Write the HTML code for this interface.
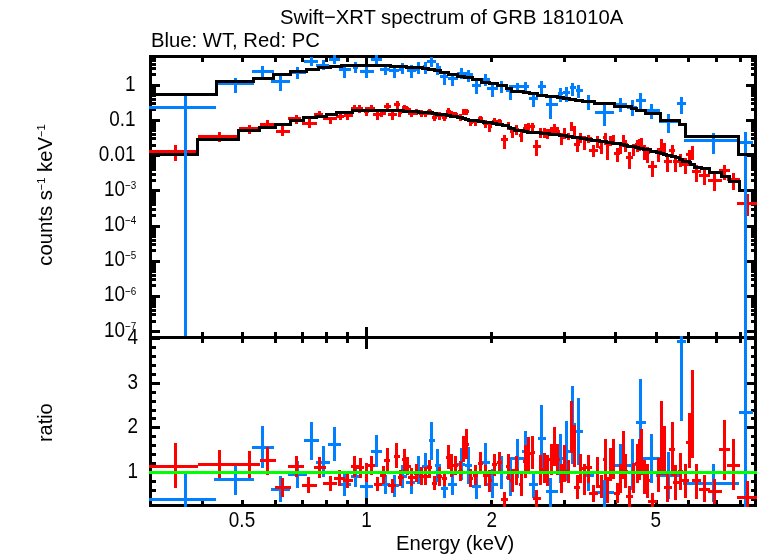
<!DOCTYPE html>
<html lang="en"><head><meta charset="utf-8"><title>Swift-XRT spectrum of GRB 181010A</title>
<style>html,body{margin:0;padding:0;background:#fff}svg{display:block}</style></head>
<body>
<svg width="758" height="556" viewBox="0 0 758 556" style="display:block">
<rect width="758" height="556" fill="#fff"/>
<g shape-rendering="crispEdges" fill="none" stroke-linecap="butt">
<path d="M150.5 55.0V507.0M755.5 55.0V507.0M149.0 56.5H757.0M150.5 337.5H755.5M149.0 505.5H757.0M202.5 56.5v5.5M202.5 332.0v11.0M202.5 505.5v-5.5M242.5 56.5v5.5M242.5 332.0v11.0M242.5 505.5v-5.5M275.5 56.5v5.5M275.5 332.0v11.0M275.5 505.5v-5.5M302.5 56.5v5.5M302.5 332.0v11.0M302.5 505.5v-5.5M326.5 56.5v5.5M326.5 332.0v11.0M326.5 505.5v-5.5M347.5 56.5v5.5M347.5 332.0v11.0M347.5 505.5v-5.5M491.5 56.5v5.5M491.5 332.0v11.0M491.5 505.5v-5.5M564.5 56.5v5.5M564.5 332.0v11.0M564.5 505.5v-5.5M615.5 56.5v5.5M615.5 332.0v11.0M615.5 505.5v-5.5M656.5 56.5v5.5M656.5 332.0v11.0M656.5 505.5v-5.5M688.5 56.5v5.5M688.5 332.0v11.0M688.5 505.5v-5.5M716.5 56.5v5.5M716.5 332.0v11.0M716.5 505.5v-5.5M740.5 56.5v5.5M740.5 332.0v11.0M740.5 505.5v-5.5M366.5 56.5v11M366.5 326.5v22M366.5 505.5v-11M150.5 85.5h9.5M755.5 85.5h-9.5M150.5 74.5h5.0M755.5 74.5h-5.0M150.5 68.5h5.0M755.5 68.5h-5.0M150.5 64.5h5.0M755.5 64.5h-5.0M150.5 60.5h5.0M755.5 60.5h-5.0M150.5 57.5h5.0M755.5 57.5h-5.0M150.5 120.5h9.5M755.5 120.5h-9.5M150.5 109.5h5.0M755.5 109.5h-5.0M150.5 103.5h5.0M755.5 103.5h-5.0M150.5 99.5h5.0M755.5 99.5h-5.0M150.5 95.5h5.0M755.5 95.5h-5.0M150.5 93.5h5.0M755.5 93.5h-5.0M150.5 90.5h5.0M755.5 90.5h-5.0M150.5 88.5h5.0M755.5 88.5h-5.0M150.5 86.5h5.0M755.5 86.5h-5.0M150.5 155.5h9.5M755.5 155.5h-9.5M150.5 145.5h5.0M755.5 145.5h-5.0M150.5 138.5h5.0M755.5 138.5h-5.0M150.5 134.5h5.0M755.5 134.5h-5.0M150.5 130.5h5.0M755.5 130.5h-5.0M150.5 128.5h5.0M755.5 128.5h-5.0M150.5 125.5h5.0M755.5 125.5h-5.0M150.5 123.5h5.0M755.5 123.5h-5.0M150.5 122.5h5.0M755.5 122.5h-5.0M150.5 190.5h9.5M755.5 190.5h-9.5M150.5 180.5h5.0M755.5 180.5h-5.0M150.5 174.5h5.0M755.5 174.5h-5.0M150.5 169.5h5.0M755.5 169.5h-5.0M150.5 166.5h5.0M755.5 166.5h-5.0M150.5 163.5h5.0M755.5 163.5h-5.0M150.5 161.5h5.0M755.5 161.5h-5.0M150.5 159.5h5.0M755.5 159.5h-5.0M150.5 157.5h5.0M755.5 157.5h-5.0M150.5 226.5h9.5M755.5 226.5h-9.5M150.5 215.5h5.0M755.5 215.5h-5.0M150.5 209.5h5.0M755.5 209.5h-5.0M150.5 204.5h5.0M755.5 204.5h-5.0M150.5 201.5h5.0M755.5 201.5h-5.0M150.5 198.5h5.0M755.5 198.5h-5.0M150.5 196.5h5.0M755.5 196.5h-5.0M150.5 194.5h5.0M755.5 194.5h-5.0M150.5 192.5h5.0M755.5 192.5h-5.0M150.5 261.5h9.5M755.5 261.5h-9.5M150.5 250.5h5.0M755.5 250.5h-5.0M150.5 244.5h5.0M755.5 244.5h-5.0M150.5 240.5h5.0M755.5 240.5h-5.0M150.5 236.5h5.0M755.5 236.5h-5.0M150.5 233.5h5.0M755.5 233.5h-5.0M150.5 231.5h5.0M755.5 231.5h-5.0M150.5 229.5h5.0M755.5 229.5h-5.0M150.5 227.5h5.0M755.5 227.5h-5.0M150.5 296.5h9.5M755.5 296.5h-9.5M150.5 285.5h5.0M755.5 285.5h-5.0M150.5 279.5h5.0M755.5 279.5h-5.0M150.5 275.5h5.0M755.5 275.5h-5.0M150.5 271.5h5.0M755.5 271.5h-5.0M150.5 269.5h5.0M755.5 269.5h-5.0M150.5 266.5h5.0M755.5 266.5h-5.0M150.5 264.5h5.0M755.5 264.5h-5.0M150.5 262.5h5.0M755.5 262.5h-5.0M150.5 331.5h9.5M755.5 331.5h-9.5M150.5 321.5h5.0M755.5 321.5h-5.0M150.5 314.5h5.0M755.5 314.5h-5.0M150.5 310.5h5.0M755.5 310.5h-5.0M150.5 306.5h5.0M755.5 306.5h-5.0M150.5 304.5h5.0M755.5 304.5h-5.0M150.5 301.5h5.0M755.5 301.5h-5.0M150.5 299.5h5.0M755.5 299.5h-5.0M150.5 298.5h5.0M755.5 298.5h-5.0M150.5 74.5h5M755.5 74.5h-5M150.5 68.5h5M755.5 68.5h-5M150.5 64.5h5M755.5 64.5h-5M150.5 60.5h5M755.5 60.5h-5M150.5 57.5h5M755.5 57.5h-5M150.5 499.5h5.0M755.5 499.5h-5.0M150.5 490.5h5.0M755.5 490.5h-5.0M150.5 481.5h5.0M755.5 481.5h-5.0M150.5 472.5h9.5M755.5 472.5h-9.5M150.5 463.5h5.0M755.5 463.5h-5.0M150.5 454.5h5.0M755.5 454.5h-5.0M150.5 445.5h5.0M755.5 445.5h-5.0M150.5 436.5h5.0M755.5 436.5h-5.0M150.5 427.5h9.5M755.5 427.5h-9.5M150.5 418.5h5.0M755.5 418.5h-5.0M150.5 410.5h5.0M755.5 410.5h-5.0M150.5 401.5h5.0M755.5 401.5h-5.0M150.5 392.5h5.0M755.5 392.5h-5.0M150.5 383.5h9.5M755.5 383.5h-9.5M150.5 374.5h5.0M755.5 374.5h-5.0M150.5 365.5h5.0M755.5 365.5h-5.0M150.5 356.5h5.0M755.5 356.5h-5.0M150.5 347.5h5.0M755.5 347.5h-5.0M150.5 338.5h9.5M755.5 338.5h-9.5" stroke="#000" stroke-width="3"/>
<defs><clipPath id="ct"><rect x="149.0" y="55.0" width="608.0" height="281.0"/></clipPath><clipPath id="cb"><rect x="149.0" y="336.0" width="608.0" height="171.0"/></clipPath></defs>
<path d="M175.5 145V161M149 151.5H198M219.5 132V142M198 136.5H239M249.5 125V134M239 128.5H260M267.5 120V127M260 124.5H276M282.5 126V136M276 131.5H290M296.5 115V124M288 118.5H301M309.5 119V128M302 123.5H317M319.5 111V118M314 114.5H323M330.5 117V124M323 118.5H337M340.5 113V120M336 116.5H344M347.5 113V120M344 115.5H353M354.5 105V112M351 108.5H358M359.5 105V113M357 108.5H363M366.5 109V116M364 111.5H369M371.5 105V111M365 108.5H375M377.5 112V120M373 114.5H381M381.5 110V117M380 113.5H386M387.5 103V110M384 106.5H391M392.5 112V120M388 114.5H397M397.5 101V109M394 104.5H400M399.5 109V117M398 112.5H402M404.5 105V110M402 107.5H408M407.5 107V112M406 109.5H411M411.5 110V117M408 113.5H415M416.5 109V115M414 111.5H419M421.5 110V117M419 113.5H424M425.5 111V117M423 113.5H428M429.5 109V115M427 111.5H432M434.5 115V121M432 117.5H437M439.5 112V120M437 115.5H442M444.5 114V121M442 117.5H447M448.5 108V114M446 111.5H451M451.5 111V118M451 113.5H454M455.5 112V117M454 114.5H458M460.5 114V121M458 117.5H463M463.5 109V115M463 112.5H465M466.5 109V115M465 111.5H469M470.5 119V126M469 122.5H473M475.5 119V126M473 121.5H478M480.5 116V122M478 118.5H483M485.5 120V128M483 123.5H488M489.5 122V132M488 126.5H492M494.5 118V125M492 121.5H497M499.5 119V125M497 121.5H502M504.5 135V149M501 139.5H508M508.5 122V130M506 125.5H510M512.5 128V138M510 131.5H514M516.5 125V135M514 129.5H519M521.5 131V142M519 135.5H523M525.5 124V133M523 128.5H527M528.5 123V131M527 126.5H531M532.5 123V131M531 126.5H535M536.5 140V156M533 146.5H541M540.5 128V138M539 132.5H543M544.5 128V138M543 132.5H546M547.5 129V139M546 133.5H549M551.5 127V135M549 130.5H553M554.5 124V133M553 127.5H556M557.5 127V136M556 131.5H560M561.5 133V145M560 137.5H563M564.5 128V139M563 132.5H566M568.5 133V140M566 136.5H570M571.5 122V131M570 125.5H573M574.5 126V136M573 130.5H576M577.5 139V152M574 144.5H580M580.5 133V143M579 137.5H583M584.5 136V150M583 141.5H586M588.5 135V143M586 138.5H592M593.5 145V157M589 150.5H598M597.5 136V148M595 140.5H599M601.5 142V154M599 147.5H603M605.5 133V145M603 137.5H607M607.5 144V160M607 149.5H609M610.5 136V146M609 140.5H612M613.5 135V145M612 139.5H615M617.5 148V162M614 153.5H620M620.5 142V154M619 146.5H622M623.5 135V147M622 139.5H625M625.5 140V152M625 144.5H628M629.5 152V169M626 157.5H633M633.5 144V156M632 148.5H635M637.5 140V152M635 144.5H638M639.5 139V151M638 144.5H641M641.5 138V150M641 142.5H643M644.5 145V160M643 150.5H646M647.5 147V163M646 152.5H650M652.5 161V177M648 166.5H657M658.5 148V162M657 153.5H660M661.5 139V155M660 144.5H663M664.5 143V155M663 148.5H666M667.5 156V172M664 161.5H672M672.5 145V158M669 150.5H675M675.5 155V172M673 161.5H679M680.5 154V167M678 159.5H683M685.5 158V174M682 164.5H689M689.5 150V161M686 154.5H691M692.5 146V160M691 151.5H694M696.5 165V182M692 171.5H701M704.5 169V185M699 175.5H710M714.5 174V191M708 180.5H722M724.5 165V180M719 170.5H730M733.5 173V190M727 179.5H740M747.5 194V216M737 203.5H757" stroke="#ff0000" stroke-width="3" clip-path="url(#ct)"/>
<path d="M147.0 154.5H197.5V139.5H238.5V130.5H259.5V127.5H275.5V124.5H290.5V120.5H303.5V117.5H316.5V116.5H326.5V114.5H336.5V112.5H344.5V112.5H352.5V110.5H358.5V110.5H364.5V110.5H369.5V110.5H375.5V110.5H382.5V110.5H386.5V110.5H390.5V110.5H396.5V110.5H399.5V110.5H403.5V111.5H408.5V111.5H410.5V111.5H414.5V111.5H418.5V112.5H423.5V112.5H427.5V112.5H432.5V113.5H436.5V114.5H441.5V114.5H446.5V115.5H450.5V116.5H453.5V116.5H457.5V117.5H462.5V118.5H465.5V119.5H468.5V120.5H473.5V120.5H478.5V121.5H483.5V122.5H488.5V122.5H492.5V123.5H496.5V124.5H502.5V125.5H508.5V127.5H510.5V128.5H514.5V130.5H518.5V130.5H523.5V131.5H527.5V132.5H530.5V132.5H534.5V132.5H540.5V133.5H542.5V133.5H546.5V133.5H549.5V134.5H553.5V134.5H556.5V134.5H559.5V135.5H563.5V135.5H566.5V136.5H569.5V136.5H572.5V137.5H575.5V137.5H580.5V138.5H582.5V138.5H586.5V139.5H591.5V140.5H598.5V140.5H599.5V141.5H603.5V141.5H606.5V142.5H609.5V142.5H612.5V143.5H615.5V143.5H620.5V144.5H622.5V144.5H624.5V145.5H627.5V146.5H633.5V146.5H635.5V147.5H638.5V148.5H640.5V148.5H643.5V149.5H645.5V149.5H650.5V151.5H656.5V152.5H660.5V153.5H663.5V154.5H666.5V155.5H671.5V156.5H675.5V157.5H679.5V159.5H682.5V161.5H689.5V162.5H690.5V164.5H694.5V167.5H701.5V168.5H709.5V172.5H721.5V176.5H729.5V181.5H739.5V190.5H760.5" stroke="#000" stroke-width="3" stroke-linejoin="miter" clip-path="url(#ct)"/>
<path d="M185.5 95V340M149 107.5H216M235.5 78V93M216 83.5H254M262.5 66V77M252 71.5H274M280.5 76V91M271 81.5H290M297.5 67V79M291 72.5H306M311.5 57V66M304 61.5H318M323.5 60V70M316 65.5H329M334.5 54V64M329 59.5H340M344.5 67V78M339 69.5H351M355.5 62V73M353 67.5H358M366.5 66V78M360 71.5H374M376.5 54V64M371 59.5H382M385.5 66V75M380 69.5H390M394.5 67V78M389 70.5H399M402.5 63V74M399 69.5H404M411.5 65V78M407 70.5H416M418.5 62V74M416 69.5H420M425.5 62V74M423 66.5H427M431.5 57V67M427 61.5H436M437.5 63V75M436 67.5H441M444.5 74V85M440 76.5H448M452.5 76V86M448 78.5H458M461.5 68V79M457 73.5H467M468.5 70V82M465 74.5H473M476.5 80V94M472 85.5H481M485.5 74V86M481 79.5H490M492.5 83V97M487 88.5H498M501.5 81V93M498 85.5H506M510.5 85V100M506 90.5H512M517.5 83V93M510 86.5H524M525.5 82V92M522 86.5H529M533.5 93V107M529 98.5H538M541.5 81V95M538 86.5H546M550.5 98V119M546 104.5H558M560.5 88V102M558 93.5H563M566.5 87V102M563 92.5H570M572.5 83V96M570 87.5H576M578.5 85V98M576 90.5H583M588.5 95V110M583 101.5H595M604.5 105V126M595 112.5H614M620.5 98V112M614 104.5H627M632.5 100V116M627 107.5H637M640.5 93V110M636 100.5H646M651.5 104V119M644 110.5H660M668.5 114V133M659 121.5H678M681.5 97V114M677 103.5H686M713.5 133V154M684 140.5H739M745.5 132V340M739 142.5H753" stroke="#0080ff" stroke-width="3" clip-path="url(#ct)"/>
<path d="M147.0 94.5H216.5V81.5H253.5V78.5H273.5V74.5H290.5V71.5H306.5V69.5H318.5V67.5H330.5V66.5H341.5V65.5H351.5V65.5H360.5V65.5H373.5V65.5H381.5V65.5H390.5V66.5H398.5V66.5H406.5V67.5H415.5V67.5H422.5V68.5H428.5V69.5H434.5V70.5H440.5V72.5H448.5V74.5H457.5V76.5H464.5V77.5H472.5V79.5H481.5V82.5H489.5V83.5H497.5V85.5H506.5V88.5H511.5V91.5H523.5V92.5H529.5V93.5H537.5V95.5H546.5V96.5H557.5V97.5H563.5V98.5H569.5V99.5H575.5V100.5H582.5V101.5H594.5V103.5H614.5V106.5H631.5V108.5H636.5V110.5H645.5V113.5H660.5V120.5H679.5V124.5H685.5V136.5H738.5V154.5H760.5" stroke="#000" stroke-width="3" stroke-linejoin="miter" clip-path="url(#ct)"/>
<path d="M185.5 471V507M149 499.5H216M235.5 466V495M214 479.5H254M262.5 426V468M252 447.5H274M280.5 476V502M271 489.5H290M297.5 461V488M288 474.5H307M311.5 422V460M304 440.5H319M323.5 446V477M316 462.5H330M334.5 427V461M328 444.5H341M344.5 474V496M341 484.5H351M355.5 465V487M351 476.5H360M366.5 475V498M360 486.5H373M376.5 435V467M371 451.5H382M385.5 475V494M382 484.5H390M394.5 475V497M390 485.5H399M402.5 465V488M399 476.5H407M411.5 470V494M406 482.5H415M418.5 456V484M415 470.5H422M425.5 453V480M422 466.5H429M431.5 422V460M429 440.5H435M437.5 449V482M435 465.5H441M444.5 479V498M441 488.5H448M452.5 473V495M448 484.5H457M461.5 448V480M457 464.5H465M468.5 447V484M465 465.5H472M476.5 474V499M472 486.5H481M485.5 443V482M481 462.5H490M492.5 469V498M487 484.5H498M501.5 456V489M498 472.5H506M510.5 459V496M506 477.5H512M517.5 439V478M510 458.5H524M525.5 431V472M522 451.5H529M533.5 471V498M529 484.5H538M541.5 405V472M538 438.5H546M550.5 478V507M546 491.5H558M560.5 434V483M558 458.5H563M566.5 421V481M563 451.5H570M572.5 386V464M570 424.5H576M578.5 398V465M576 431.5H583M588.5 459V491M583 475.5H594M604.5 480V507M594 492.5H614M620.5 444V486M614 465.5H632M632.5 439V490M632 464.5H636M640.5 379V466M636 422.5H646M651.5 434V483M643 458.5H660M668.5 452V499M656 475.5H680M681.5 330V421M677 341.5H686M713.5 464V502M683 483.5H739M745.5 330V510M739 412.5H753" stroke="#0080ff" stroke-width="3" clip-path="url(#cb)"/>
<path d="M175.5 443V488M149 466.5H198M219.5 450V478M198 464.5H239M249.5 451V478M239 464.5H260M267.5 447V475M260 460.5H276M282.5 478V497M275 487.5H291M296.5 456V477M288 466.5H304M308.5 477V493M302 485.5H317M319.5 457V478M314 467.5H326M330.5 476V491M323 483.5H337M339.5 470V486M334 478.5H345M347.5 474V488M343 480.5H353M354.5 456V477M351 466.5H359M360.5 458V478M356 467.5H364M366.5 463V482M364 472.5H369M371.5 456V475M367 465.5H375M377.5 477V491M374 484.5H382M383.5 466V484M380 475.5H386M387.5 448V472M384 460.5H390M392.5 479V493M388 485.5H396M396.5 443V468M394 456.5H400M400.5 470V486M398 477.5H404M404.5 449V471M402 459.5H408M407.5 457V475M406 466.5H411M411.5 468V486M408 477.5H415M416.5 464V482M414 473.5H419M421.5 467V485M419 476.5H424M425.5 467V485M423 476.5H428M429.5 460V478M427 467.5H432M434.5 476V490M432 483.5H437M439.5 467V486M437 476.5H442M444.5 471V486M442 478.5H447M448.5 445V469M446 457.5H451M451.5 454V477M451 465.5H454M455.5 456V475M454 465.5H458M460.5 461V481M458 471.5H463M463.5 436V462M463 448.5H465M466.5 429V459M465 444.5H469M470.5 469V487M469 478.5H473M475.5 465V485M473 475.5H478M480.5 452V474M478 463.5H483M485.5 465V486M483 475.5H488M489.5 470V492M488 480.5H492M494.5 454V476M492 464.5H497M499.5 452V474M497 462.5H502M504.5 492V507M501 499.5H508M508.5 454V480M506 466.5H510M512.5 469V492M510 480.5H514M516.5 456V485M514 470.5H519M521.5 473V496M519 484.5H523M525.5 445V478M523 461.5H527M528.5 437V471M527 453.5H531M532.5 436V469M531 452.5H535M536.5 490V507M533 498.5H541M540.5 455V485M539 469.5H543M544.5 453V483M543 468.5H546M547.5 455V486M546 470.5H549M551.5 444V475M549 459.5H553M554.5 427V466M553 446.5H556M557.5 444V475M556 459.5H560M561.5 464V493M560 478.5H563M564.5 445V482M563 463.5H566M568.5 460V483M566 471.5H570M571.5 401V453M570 423.5H573M574.5 425V467M573 447.5H576M577.5 475V499M574 487.5H580M580.5 454V483M579 468.5H583M584.5 464V495M583 479.5H586M588.5 455V483M586 467.5H592M593.5 485V502M589 493.5H598M597.5 457V488M595 472.5H599M601.5 475V498M599 486.5H603M605.5 439V480M603 459.5H607M607.5 477V503M607 490.5H609M610.5 448V481M609 464.5H612M613.5 439V479M612 458.5H615M617.5 483V503M614 493.5H620M620.5 464V493M619 478.5H622M623.5 431V479M622 454.5H625M625.5 454V488M625 471.5H628M629.5 486V507M626 496.5H633M633.5 463V493M632 477.5H635M637.5 444V483M635 463.5H638M639.5 439V480M638 459.5H641M641.5 429V475M641 452.5H643M644.5 460V494M643 476.5H646M647.5 464V498M646 480.5H650M652.5 493V509M648 501.5H657M658.5 458V492M657 475.5H660M661.5 401V475M660 435.5H663M664.5 426V475M663 449.5H666M667.5 473V502M664 487.5H672M672.5 422V476M669 449.5H675M675.5 465V500M673 482.5H679M680.5 453V490M678 471.5H683M685.5 464V498M682 480.5H689M689.5 413V468M686 442.5H691M692.5 370V458M691 413.5H694M696.5 464V499M692 480.5H701M704.5 475V502M699 489.5H710M714.5 479V504M708 491.5H722M724.5 420V480M719 449.5H730M733.5 439V490M727 465.5H740M747.5 481V509M737 497.5H757" stroke="#ff0000" stroke-width="3" clip-path="url(#cb)"/>
<line x1="149.0" y1="472.5" x2="757.0" y2="472.5" stroke="#00ff00" stroke-width="3"/>
</g>
<g font-family="'Liberation Sans', Arial, Helvetica, sans-serif" font-size="21" fill="#000">
<text transform="translate(280,24.3) scale(0.965,1)" text-anchor="start">Swift−XRT spectrum of GRB 181010A</text>
<text transform="translate(151,47) scale(0.965,1)" text-anchor="start">Blue: WT, Red: PC</text>
<text transform="translate(396,550) scale(0.965,1)" text-anchor="start">Energy (keV)</text>
<text transform="translate(242,527) scale(0.86,1)" text-anchor="middle" font-size="22">0.5</text>
<text transform="translate(366.5,527) scale(0.86,1)" text-anchor="middle" font-size="22">1</text>
<text transform="translate(491.7,527) scale(0.86,1)" text-anchor="middle" font-size="22">2</text>
<text transform="translate(655.8,527) scale(0.86,1)" text-anchor="middle" font-size="22">5</text>
<text transform="translate(135.5,90.7) scale(0.86,1)" text-anchor="end" font-size="22">1</text>
<text transform="translate(135.5,125.9) scale(0.86,1)" text-anchor="end" font-size="22">0.1</text>
<text transform="translate(135.5,161) scale(0.86,1)" text-anchor="end" font-size="22">0.01</text>
<text transform="translate(104,195.8) scale(0.86,1)" text-anchor="start" font-size="22">10<tspan font-size="11.5" dy="-6.8">−3</tspan></text>
<text transform="translate(104,231.0) scale(0.86,1)" text-anchor="start" font-size="22">10<tspan font-size="11.5" dy="-6.8">−4</tspan></text>
<text transform="translate(104,266.20000000000005) scale(0.86,1)" text-anchor="start" font-size="22">10<tspan font-size="11.5" dy="-6.8">−5</tspan></text>
<text transform="translate(104,301.40000000000003) scale(0.86,1)" text-anchor="start" font-size="22">10<tspan font-size="11.5" dy="-6.8">−6</tspan></text>
<text transform="translate(104,336.6) scale(0.86,1)" text-anchor="start" font-size="22">10<tspan font-size="11.5" dy="-6.8">−7</tspan></text>
<text transform="translate(138,477.79999999999995) scale(0.86,1)" text-anchor="end" font-size="22">1</text>
<text transform="translate(138,433.29999999999995) scale(0.86,1)" text-anchor="end" font-size="22">2</text>
<text transform="translate(138,388.79999999999995) scale(0.86,1)" text-anchor="end" font-size="22">3</text>
<text transform="translate(138,343.5) scale(0.86,1)" text-anchor="end" font-size="22">4</text>
<text transform="translate(52,195) rotate(-90) scale(0.965,1)" text-anchor="middle">counts s<tspan font-size="11.5" dy="-6.8">−1</tspan><tspan dy="6.8"> keV</tspan><tspan font-size="11.5" dy="-6.8">−1</tspan></text>
<text transform="translate(52,422.7) rotate(-90) scale(0.95,1)" text-anchor="middle">ratio</text>
</g>
</svg>
</body></html>
